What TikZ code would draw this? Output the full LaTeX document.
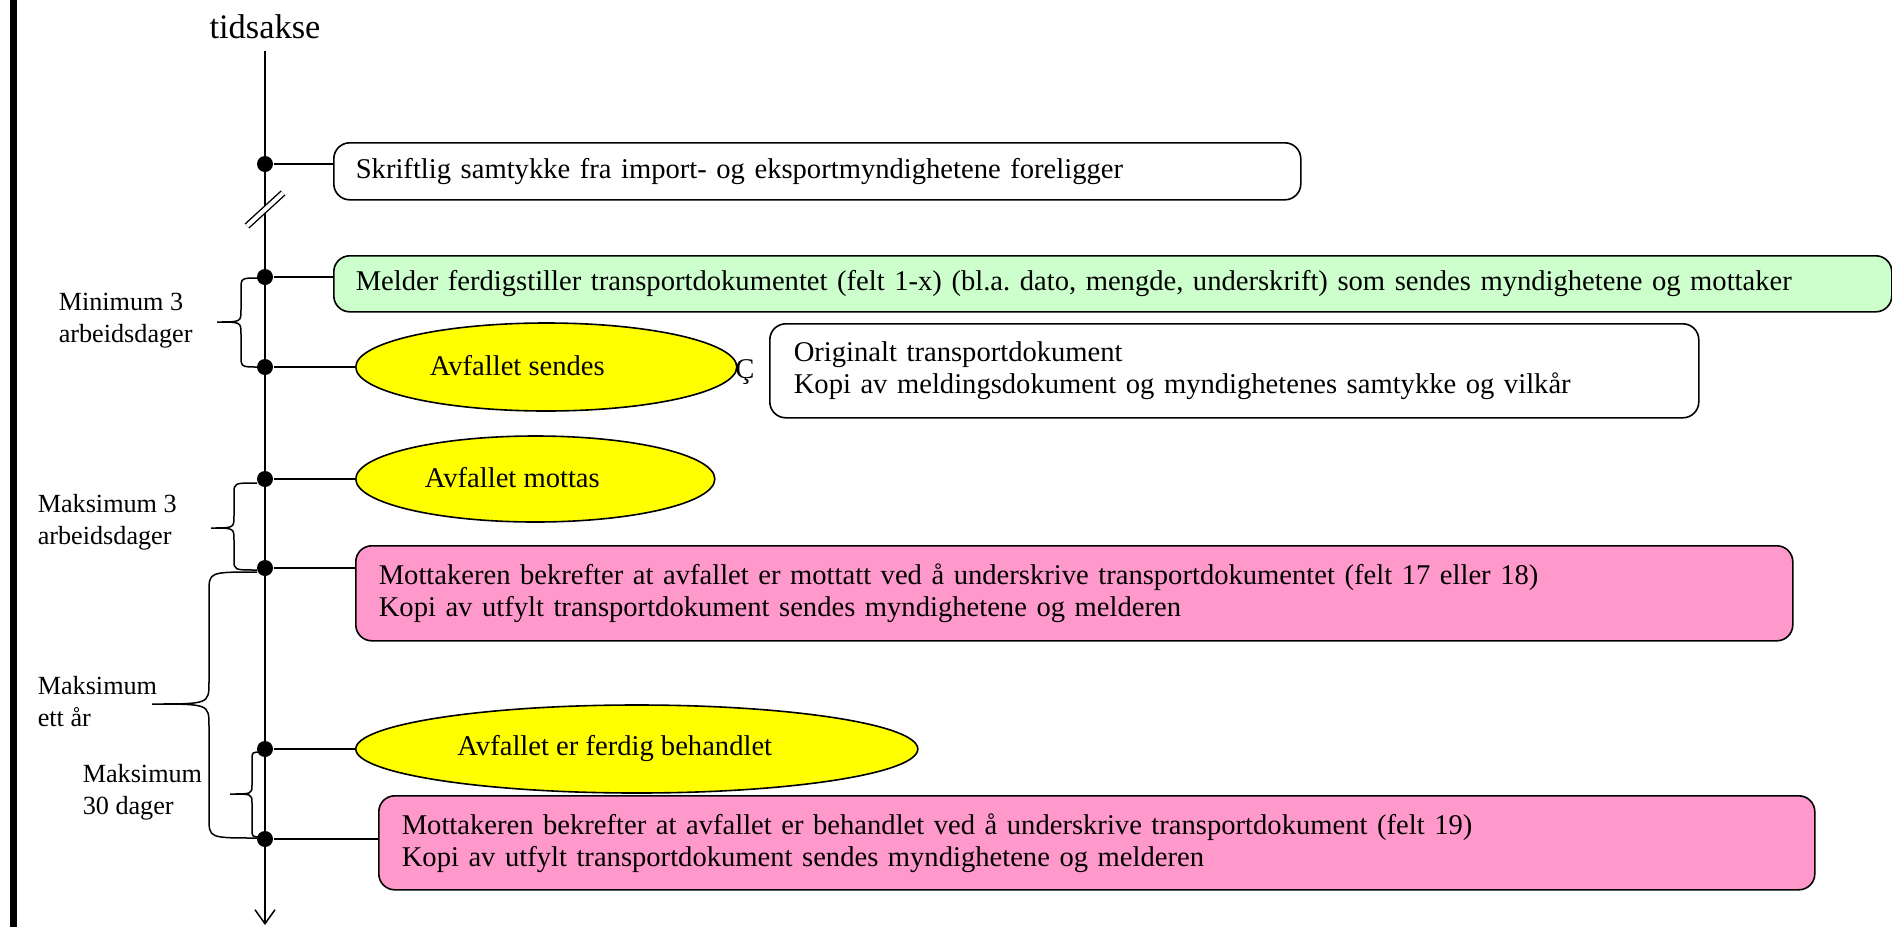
\documentclass[tikz,border=0pt]{standalone}
\usepackage{fontspec}
\setmainfont{Liberation Serif}
\frenchspacing
\usetikzlibrary{shapes.geometric,arrows.meta}

\definecolor{notegreen}{RGB}{204,255,204}
\definecolor{notepink}{RGB}{255,153,204}
\definecolor{eventyellow}{RGB}{255,255,0}

\tikzset{
  dot/.style={circle, fill=black, inner sep=0pt, minimum size=8pt},
  infobox/.style={draw, line width=0.8pt, rounded corners=8pt, anchor=north west,
    align=left, inner xsep=11pt, font=\fontsize{14.3}{16}\selectfont},
  event/.style={draw, ellipse, fill=eventyellow, line width=0.8pt, anchor=west,
    inner sep=0pt, font=\fontsize{14.3}{16}\selectfont},
  spanlabel/.style={anchor=west, align=left, inner sep=0pt, font=\fontsize{13.1}{16}\selectfont},
  spanbrace/.style={line width=0.75pt}
}

\begin{document}
\begin{tikzpicture}[x=0.5pt, y=-0.5pt, line width=0.75pt]
  \useasboundingbox (0,0) rectangle (1892,927);
  \fill (10,0) rectangle (17,927);

  % time axis
  \node (axis) at (265,27) {\fontsize{17.2}{19}\selectfont tidsakse};
  \coordinate (axtop) at (265,51);
  \coordinate (axend) at (265,925);
  \draw[-{Straight Barb[length=7pt,width=10pt]}] (axtop) -- (axend);
  \draw[line width=0.7pt, double, double distance=2pt] (247,226) -- (283,193);

  % events on the axis
  \node[dot] (d1) at (265,164) {};
  \node[dot] (d2) at (265,277) {};
  \node[dot] (d3) at (265,367) {};
  \node[dot] (d4) at (265,479) {};
  \node[dot] (d5) at (265,568) {};
  \node[dot] (d6) at (265,749) {};
  \node[dot] (d7) at (265,839) {};

  \node[infobox, text width=461.5pt, minimum width=483.5pt, minimum height=28.5pt] (samtykke) at (333,142)
    {Skriftlig samtykke fra import- og eksportmyndighetene foreligger};
  \node[infobox, fill=notegreen, text width=757pt, minimum width=779pt, minimum height=28pt] (melder) at (333,255)
    {Melder ferdigstiller transportdokumentet (felt 1-x) (bl.a. dato, mengde, underskrift) som sendes myndighetene og mottaker};
  \node[event, minimum width=190.5pt, minimum height=44pt] (sendes) at (355,367)
    {\makebox[0pt]{\raisebox{2pt}{Avfallet sendes}\hspace*{29pt}}};
  \node[font=\fontsize{14.3}{16}\selectfont, inner sep=0pt] (cc) at (745,372) {Ç};
  \node[infobox, inner xsep=12pt, text width=440.5pt, minimum width=464.5pt, minimum height=47pt] (original) at (769,323)
    {Originalt transportdokument\\Kopi av meldingsdokument og myndighetenes samtykke og vilkår};
  \node[event, minimum width=179.5pt, minimum height=43pt] (mottas) at (355,479)
    {\makebox[0pt]{\raisebox{2pt}{Avfallet mottas}\hspace*{23pt}}};
  \node[infobox, fill=notepink, inner xsep=11.5pt, text width=695.5pt, minimum width=718.5pt, minimum height=47.5pt] (mottatt) at (355,545)
    {Mottakeren bekrefter at avfallet er mottatt ved å underskrive transportdokumentet (felt 17 eller 18)\\Kopi av utfylt transportdokument sendes myndighetene og melderen};
  \node[event, minimum width=281pt, minimum height=44pt] (behandlet) at (355,749)
    {\makebox[0pt]{\raisebox{2pt}{Avfallet er ferdig behandlet}\hspace*{22pt}}};
  \node[infobox, fill=notepink, inner xsep=11.5pt, text width=695pt, minimum width=718pt, minimum height=47pt] (ferdig) at (378,795)
    {Mottakeren bekrefter at avfallet er behandlet ved å underskrive transportdokument (felt 19)\\Kopi av utfylt transportdokument sendes myndighetene og melderen};

  \draw (d1) -- (d1 -| samtykke.west);
  \draw (d2) -- (d2 -| melder.west);
  \draw (d3) -- (sendes.west);
  \draw (d4) -- (mottas.west);
  \draw (d5) -- (d5 -| mottatt.west);
  \draw (d6) -- (behandlet.west);
  \draw (d7) -- (d7 -| ferdig.west);

  % spans of time
  \draw[spanbrace] (258,278) .. controls (241,278) .. (241,290) -- (241,310)
    .. controls (241,322) .. (217,322) .. controls (241,322) .. (241,334)
    -- (241,355) .. controls (241,367) .. (258,367);
  \draw[spanbrace] (257,483) .. controls (234,483) .. (234,493) -- (234,516)
    .. controls (234,528) .. (211,528) .. controls (234,528) .. (234,540)
    -- (234,560) .. controls (234,570) .. (257,570);
  \draw[spanbrace] (257,572) .. controls (209,572) .. (209,592) -- (209,682)
    .. controls (209,704) .. (152,704) .. controls (209,704) .. (209,726)
    -- (209,818) .. controls (209,838) .. (257,838);
  \draw[spanbrace] (262,752) .. controls (252,752) .. (252,760) -- (252,785)
    .. controls (252,794) .. (230,794) .. controls (252,794) .. (252,803)
    -- (252,829) .. controls (252,837) .. (262,837);

  \node[spanlabel] (min3) at (58,321) {Minimum 3\\arbeidsdager};
  \node[spanlabel] (maks3) at (37,522) {Maksimum 3\\arbeidsdager};
  \node[spanlabel] (maksaar) at (37,702) {Maksimum\\ett år};
  \node[spanlabel] (maks30) at (82,792) {Maksimum\\30 dager};
\end{tikzpicture}
\end{document}
